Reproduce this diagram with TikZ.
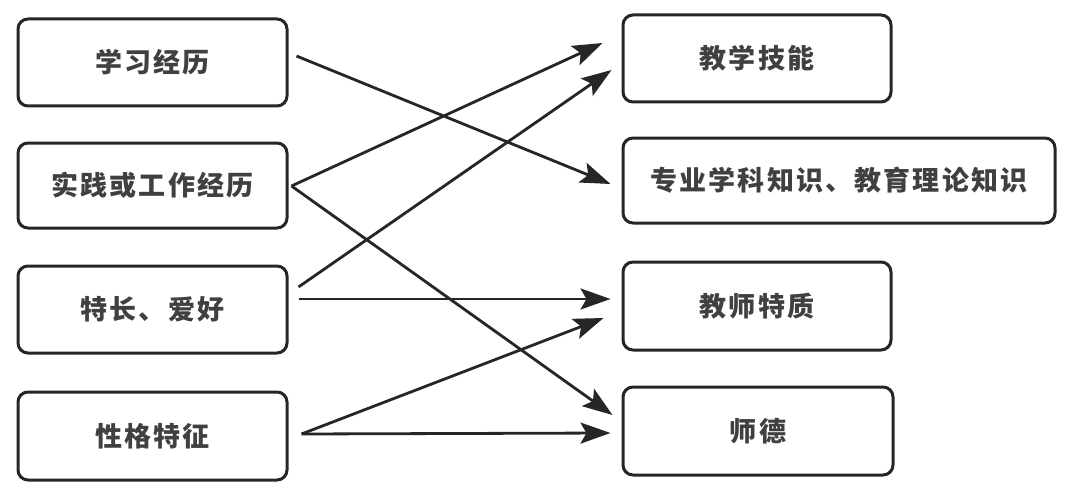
\documentclass[tikz,border=0pt]{standalone}
\usepackage{fontspec}
\newfontfamily\cjk[LetterSpace=8]{Noto Sans CJK SC}
\usetikzlibrary{calc,arrows.meta}
\begin{document}
\begin{tikzpicture}[x=1pt,y=-1pt,
  box/.style={draw=black!85,line width=3pt,rounded corners=10pt,minimum height=87pt,inner sep=0pt,
    font=\cjk\bfseries\fontsize{27}{30}\selectfont,text=black!75},
  lbox/.style={box,minimum width=269pt},
  arr/.style={line width=2.8pt,draw=black!85,-{Stealth[length=30pt,width=21pt,inset=6pt]}}]
\useasboundingbox (0,0) rectangle (1080,495);
\fill[white] (0,0) rectangle (1080,495);
\node[lbox,minimum height=87pt] (L1) at (152.5,62.5) {学习经历};
\node[lbox,minimum height=85pt] (L2) at (152.5,185.5) {实践或工作经历};
\node[lbox,minimum height=87pt] (L3) at (152.5,309.5) {特长、爱好};
\node[lbox,minimum height=88pt] (L4) at (152.5,436) {性格特征};
\node[box,minimum width=268pt,minimum height=87pt] (R1) at (757,58.5) {教学技能};
\node[box,minimum width=432pt,minimum height=85pt] (R2) at (839,180.5) {专业学科知识、教育理论知识};
\node[box,minimum width=268pt,minimum height=88pt] (R3) at (757,306) {教师特质};
\node[box,minimum width=270pt,minimum height=88pt] (R4) at (758,431) {师德};
\draw[arr] ($(L1.east)+(8,-6.5)$) -- ($(R2.west)+(-11,3.5)$);
\draw[arr] ($(L2.east)+(3,0.5)$) -- ($(R1.west)+(-19,-15.5)$);
\draw[arr] ($(L2.east)+(3,0.5)$) -- ($(R4.west)+(-9,-16)$);
\draw[arr] ($(L3.east)+(10,-22.5)$) -- ($(R1.west)+(-10,11.5)$);
\draw[arr] ($(L3.east)+(10,-10.5)$) -- ($(R3.west)+(-11,-7)$);
\draw[arr] ($(L4.east)+(13,-2)$) -- ($(R3.west)+(-18,12)$);
\draw[arr] ($(L4.east)+(13,-2)$) -- ($(R4.west)+(-11,2)$);
\end{tikzpicture}
\end{document}
